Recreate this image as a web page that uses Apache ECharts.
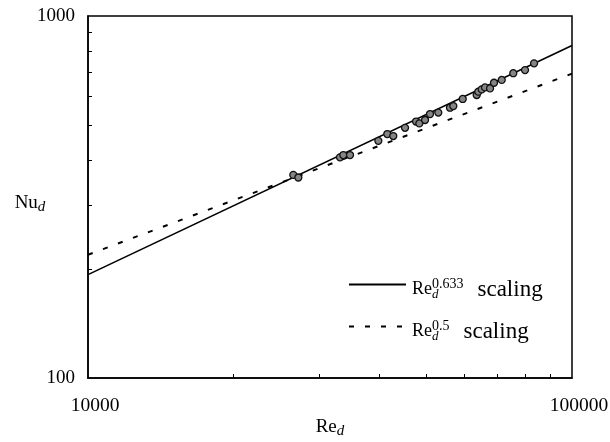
<!DOCTYPE html>
<html>
<head>
<meta charset="utf-8">
<script src="https://cdn.jsdelivr.net/npm/echarts@6/dist/echarts.min.js"></script>
<style>
  html, body { margin: 0; padding: 0; background: #fff; }
  #chart { width: 610px; height: 442px; }
</style>
</head>
<body>
<div id="chart"></div>
<script>
// Measured Nusselt number vs Reynolds number (log-log)
const reData = [26560, 27200, 33160, 33690, 34780, 39800, 41530, 42730, 45190,
  47620, 48370, 49700, 50890, 52940, 55960, 56860, 59460, 63550, 64040, 65080,
  66110, 67710, 69000, 71580, 75630, 79970, 83490];
const nuData = [364, 358, 407, 413, 413, 452, 472, 466, 491,
  511, 505, 516, 536, 541, 558, 564, 590, 605, 618, 627,
  635, 631, 654, 666, 695, 709, 740];

// Scaling lines, given by their end values across the plotted range
const lineRe = [10000, 100000];
const fitNu633 = [193, 829];   // Re_d^0.633
const fitNu05 = [219, 693];    // Re_d^0.5

// Axis labels and minor ticks
const xLabels = [10000, 100000];
const xMinor = [20000, 30000, 40000, 50000, 60000, 70000, 80000, 90000];
const yLabels = [100, 1000];
const yMinor = [200, 300, 400, 500, 600, 700, 800, 900];

const FONT = '"Liberation Serif", "Times New Roman", serif';

const chart = echarts.init(document.getElementById('chart'), null, { renderer: 'canvas' });

const zip = (a, b) => a.map((v, i) => [v, b[i]]);
const plain = v => String(Math.round(v));

chart.setOption({
  animation: false,
  backgroundColor: '#fff',
  grid: {
    left: 88, right: 38, top: 16, bottom: 64,
    outerBoundsMode: 'none', containLabel: false,
    show: true, borderColor: '#000', borderWidth: 1.5, backgroundColor: 'transparent'
  },
  xAxis: {
    type: 'log', logBase: 10, min: 10000, max: 100000,
    name: 'Re{d|d}', nameLocation: 'middle', nameGap: 38, nameMoveOverlap: false,
    nameTextStyle: {
      fontFamily: FONT, fontSize: 19, color: '#000',
      rich: { d: { fontFamily: FONT, fontStyle: 'italic', fontSize: 15, padding: [8, 0, 0, 0] } }
    },
    axisLine: { show: true, lineStyle: { color: '#000', width: 1.5 } },
    axisTick: { show: true, inside: true, length: 4, customValues: xMinor, lineStyle: { color: '#000', width: 1 } },
    minorTick: { show: false },
    axisLabel: {
      customValues: xLabels, formatter: plain, margin: 18, fontFamily: FONT, fontSize: 19.5, color: '#000',
      padding: [0, 0, 0, 14]
    },
    splitLine: { show: false }
  },
  yAxis: {
    type: 'log', logBase: 10, min: 100, max: 1000,
    name: 'Nu{d|d}', nameLocation: 'middle', nameGap: 58, nameRotate: 0, nameMoveOverlap: false,
    nameTextStyle: {
      fontFamily: FONT, fontSize: 19, color: '#000', align: 'center', verticalAlign: 'middle',
      padding: [12, 0, 0, 0],
      rich: { d: { fontFamily: FONT, fontStyle: 'italic', fontSize: 15, padding: [8, 0, 0, 0] } }
    },
    axisLine: { show: true, lineStyle: { color: '#000', width: 1.5 } },
    axisTick: { show: true, inside: true, length: 4, customValues: yMinor, lineStyle: { color: '#000', width: 1 } },
    minorTick: { show: false },
    axisLabel: { customValues: yLabels, formatter: plain, margin: 13, fontFamily: FONT, fontSize: 19, color: '#000' },
    splitLine: { show: false }
  },
  legend: {
    data: ['p633', 'p05'],
    orient: 'vertical',
    left: 343, top: 272,
    itemWidth: 57, itemHeight: 14, itemGap: 17,
    itemStyle: { opacity: 0 },
    formatter: function (name) {
      const exp = name === 'p633' ? '0.633' : '0.5';
      return '{re|Re}{sub|d}{sup|' + exp + '}{s|scaling}';
    },
    textStyle: {
      fontFamily: FONT, color: '#000',
      padding: [10, 0, 0, 0],
      rich: {
        re: { fontFamily: FONT, fontSize: 18, padding: [0, 0, 0, 1], verticalAlign: 'middle', lineHeight: 26 },
        sub: { fontFamily: FONT, fontStyle: 'italic', fontSize: 13, width: 0, padding: [11, 0, 0, 0], verticalAlign: 'middle', lineHeight: 26 },
        sup: { fontFamily: FONT, fontSize: 14, padding: [0, 0, 11, 0], verticalAlign: 'middle', lineHeight: 26 },
        s: { fontFamily: FONT, fontSize: 23, padding: [0, 0, 0, 14], verticalAlign: 'middle', lineHeight: 26 }
      }
    }
  },
  series: [
    {
      name: 'p633', type: 'line', symbol: 'none',
      data: zip(lineRe, fitNu633),
      lineStyle: { color: '#000', width: 1.6, type: 'solid' },
      itemStyle: { color: '#000' },
      z: 3
    },
    {
      name: 'p05', type: 'line', symbol: 'none',
      data: zip(lineRe, fitNu05),
      lineStyle: { color: '#000', width: 2, type: [5, 11] },
      itemStyle: { color: '#000' },
      z: 3
    },
    {
      name: 'data', type: 'scatter',
      data: zip(reData, nuData),
      symbol: 'circle', symbolSize: 7,
      itemStyle: { color: '#858585', borderColor: '#111', borderWidth: 1.3, opacity: 1 },
      z: 4
    }
  ]
});
</script>
</body>
</html>
